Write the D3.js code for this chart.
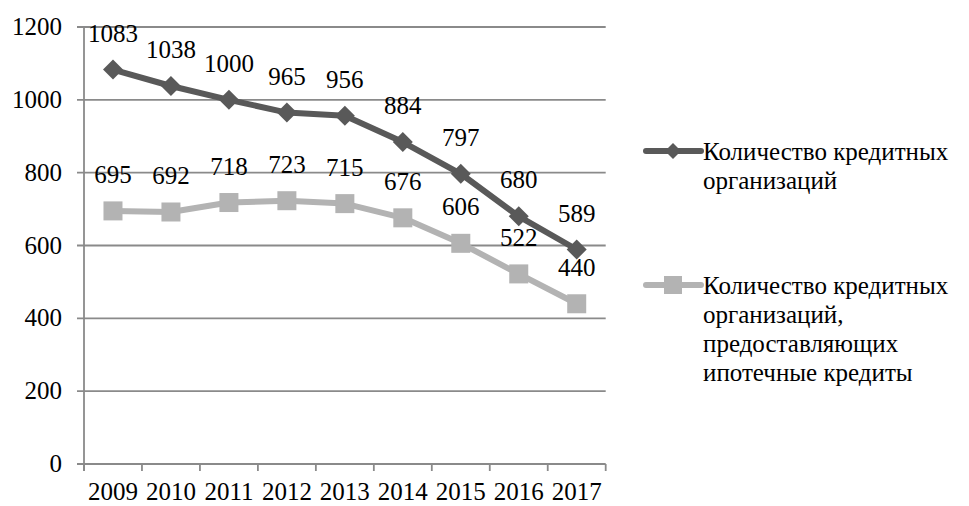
<!DOCTYPE html>
<html><head><meta charset="utf-8">
<script src="https://cdn.jsdelivr.net/npm/d3@7"></script>
<style>body{margin:0;background:#fff}svg{display:block}text{font-family:"Liberation Serif","Times New Roman",serif}</style>
</head><body>
<svg id="c" width="969" height="506"></svg>
<script>
const years = ["2009","2010","2011","2012","2013","2014","2015","2016","2017"];
const totalOrgs = [1083,1038,1000,965,956,884,797,680,589];
const mortgageOrgs = [695,692,718,723,715,676,606,522,440];
const yTicks = [0,200,400,600,800,1000,1200];
const seriesNames = [
  ["Количество кредитных","организаций"],
  ["Количество кредитных","организаций,","предоставляющих","ипотечные кредиты"]
];

(function(){
const svg = d3.select("#c");
const pL = 84, pR = 605.7, pT = 27, pB = 464;
const x = d3.scaleBand().domain(years).range([pL, pR]);
const y = d3.scaleLinear().domain([0,1200]).range([pB, pT]);
const grid = "#8a8a8a";
const fs = 25;

svg.append("g").selectAll("line").data(yTicks).join("line")
  .attr("x1", pL-7).attr("x2", pR).attr("y1", d=>y(d)).attr("y2", d=>y(d))
  .attr("stroke", grid).attr("stroke-width", 1.8);
svg.append("line").attr("x1", pL).attr("x2", pL).attr("y1", pT).attr("y2", pB+7)
  .attr("stroke", grid).attr("stroke-width", 1.8);
const xt = years.map(d=>x(d)).concat([pR]);
svg.append("g").selectAll("line").data(xt).join("line")
  .attr("x1", d=>d).attr("x2", d=>d).attr("y1", pB).attr("y2", pB+7)
  .attr("stroke", grid).attr("stroke-width", 1.8);
svg.append("g").selectAll("text").data(yTicks).join("text")
  .attr("x", 62).attr("y", d=>y(d)+8).attr("text-anchor","end")
  .attr("font-size", fs).attr("fill","#000").text(d=>d);
svg.append("g").selectAll("text").data(years).join("text")
  .attr("x", d=>x(d)+x.bandwidth()/2).attr("y", 500).attr("text-anchor","middle")
  .attr("font-size", fs).attr("fill","#000").text(d=>d);

const cx = (d,i)=>x(years[i])+x.bandwidth()/2;
const series = [
  {vals: totalOrgs, color:"#595959", shape:"diamond"},
  {vals: mortgageOrgs, color:"#b3b3b3", shape:"square"}
];
const line = d3.line().x((d,i)=>cx(d,i)).y(d=>y(d));

function marker(g, shape, px, py, s, color){
  if(shape==="diamond"){
    g.append("path").attr("d", `M${px},${py-s}L${px+s},${py}L${px},${py+s}L${px-s},${py}Z`).attr("fill", color);
  } else {
    g.append("rect").attr("x", px-s).attr("y", py-s).attr("width", 2*s).attr("height", 2*s).attr("fill", color);
  }
}

[1,0].forEach(k=>{
  const s = series[k];
  const g = svg.append("g");
  g.append("path").datum(s.vals).attr("d", line).attr("fill","none")
    .attr("stroke", s.color).attr("stroke-width", 6).attr("stroke-linejoin","round");
  s.vals.forEach((v,i)=>marker(g, s.shape, cx(v,i), y(v), s.shape==="diamond"?10:9.5, s.color));
});
series.forEach(s=>{
  svg.append("g").selectAll("text").data(s.vals).join("text")
    .attr("x", (d,i)=>cx(d,i)).attr("y", d=>y(d)-28).attr("text-anchor","middle")
    .attr("font-size", fs).attr("fill","#000").text(d=>d);
});

const legY = [151, 285];
series.forEach((s,k)=>{
  const g = svg.append("g");
  g.append("line").attr("x1",646).attr("x2",701).attr("y1",legY[k]).attr("y2",legY[k])
    .attr("stroke", s.color).attr("stroke-width",6).attr("stroke-linecap","round");
  marker(g, s.shape, 673, legY[k], s.shape==="diamond"?8:9, s.color);
  const t = g.append("text").attr("font-size", 25).attr("fill","#000");
  seriesNames[k].forEach((ln,j)=>{
    t.append("tspan").attr("x",703).attr("y", legY[k]+9+j*29).text(ln);
  });
});
})();
</script>
</body></html>
